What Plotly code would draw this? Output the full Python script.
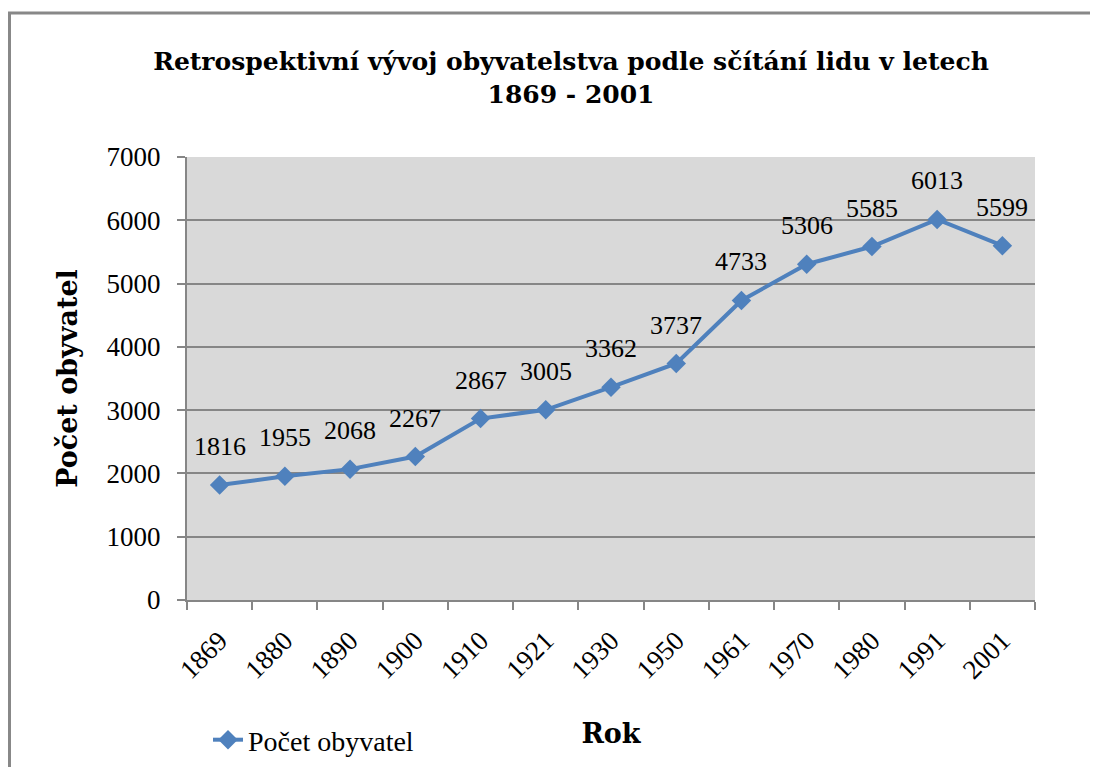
import plotly.graph_objects as go

years = ['1869', '1880', '1890', '1900', '1910', '1921', '1930',
         '1950', '1961', '1970', '1980', '1991', '2001']
population = [1816, 1955, 2068, 2267, 2867, 3005, 3362,
              3737, 4733, 5306, 5585, 6013, 5599]

FONT = 'Liberation Serif'
BOLD = 'DejaVu Serif'
# page has an 8px body margin, so the figure is laid out 8px in from the corner
OFF = 8
W, H = 1098 - OFF, 767 - OFF
L, R, T, B = 187 - OFF, 63, 157 - OFF, 167
pw, ph = W - L - R, H - T - B

fig = go.Figure()
fig.add_trace(go.Scatter(
    x=years, y=population, mode='lines+markers', name='Počet obyvatel',
    line=dict(color='#4F81BD', width=4),
    marker=dict(symbol='diamond', size=15, color='#4F81BD'),
))

# data labels above points (x as category index so numeric names aren't misread)
for i, v in enumerate(population):
    fig.add_annotation(x=i, y=v, text=str(v), showarrow=False,
                       yanchor='bottom', yshift=22,
                       font=dict(family=FONT, size=26, color='black'))

# grey frame around the chart (figure px -> paper coords)
def px_x(p):
    return (p - L) / pw

def px_y(p):
    return (H - B - p) / ph

fig.add_shape(type='rect', xref='paper', yref='paper',
              x0=px_x(1.5), x1=px_x(W + 20), y0=px_y(H + 20), y1=px_y(5),
              line=dict(color='#888888', width=3), layer='below')

fig.update_layout(
    width=W, height=H,
    margin=dict(l=L, r=R, t=T, b=B, autoexpand=False),
    paper_bgcolor='white', plot_bgcolor='#D9D9D9',
    font=dict(family=FONT, size=26, color='black'),
    title=dict(text='<b>Retrospektivní vývoj obyvatelstva podle sčítání lidu v letech<br>1869 - 2001</b>',
               x=563 / W, xanchor='center', xref='container',
               y=1 - 62 / H, yanchor='top', yref='container',
               font=dict(family=BOLD, size=25, color='black')),
    showlegend=True,
    legend=dict(orientation='h', x=px_x(200), xanchor='left',
                y=px_y(732), yanchor='middle', bgcolor='rgba(0,0,0,0)',
                font=dict(family=FONT, size=28)),
)

fig.update_xaxes(
    type='category', range=[-0.5, len(years) - 0.5], tickangle=-45,
    tickson='boundaries', automargin=False,
    ticks='outside', ticklen=8, tickcolor='#868686', tickwidth=2,
    showline=True, linecolor='#868686', linewidth=2, showgrid=False,
    tickfont=dict(family=FONT, size=27), ticklabelstandoff=12,
    title=dict(text='<b>Rok</b>', font=dict(family=BOLD, size=27), standoff=40),
)
fig.update_yaxes(
    range=[0, 7000], dtick=1000, ticks='outside', ticklen=8,
    tickcolor='#868686', tickwidth=2, automargin=False,
    showline=True, linecolor='#868686', linewidth=2,
    showgrid=True, gridcolor='#868686', gridwidth=1.5, zeroline=False,
    tickfont=dict(family=FONT, size=27), ticklabelstandoff=11,
    title=dict(text='<b>Počet obyvatel</b>', font=dict(family=BOLD, size=27), standoff=21),
)

fig.write_html('out.html')
